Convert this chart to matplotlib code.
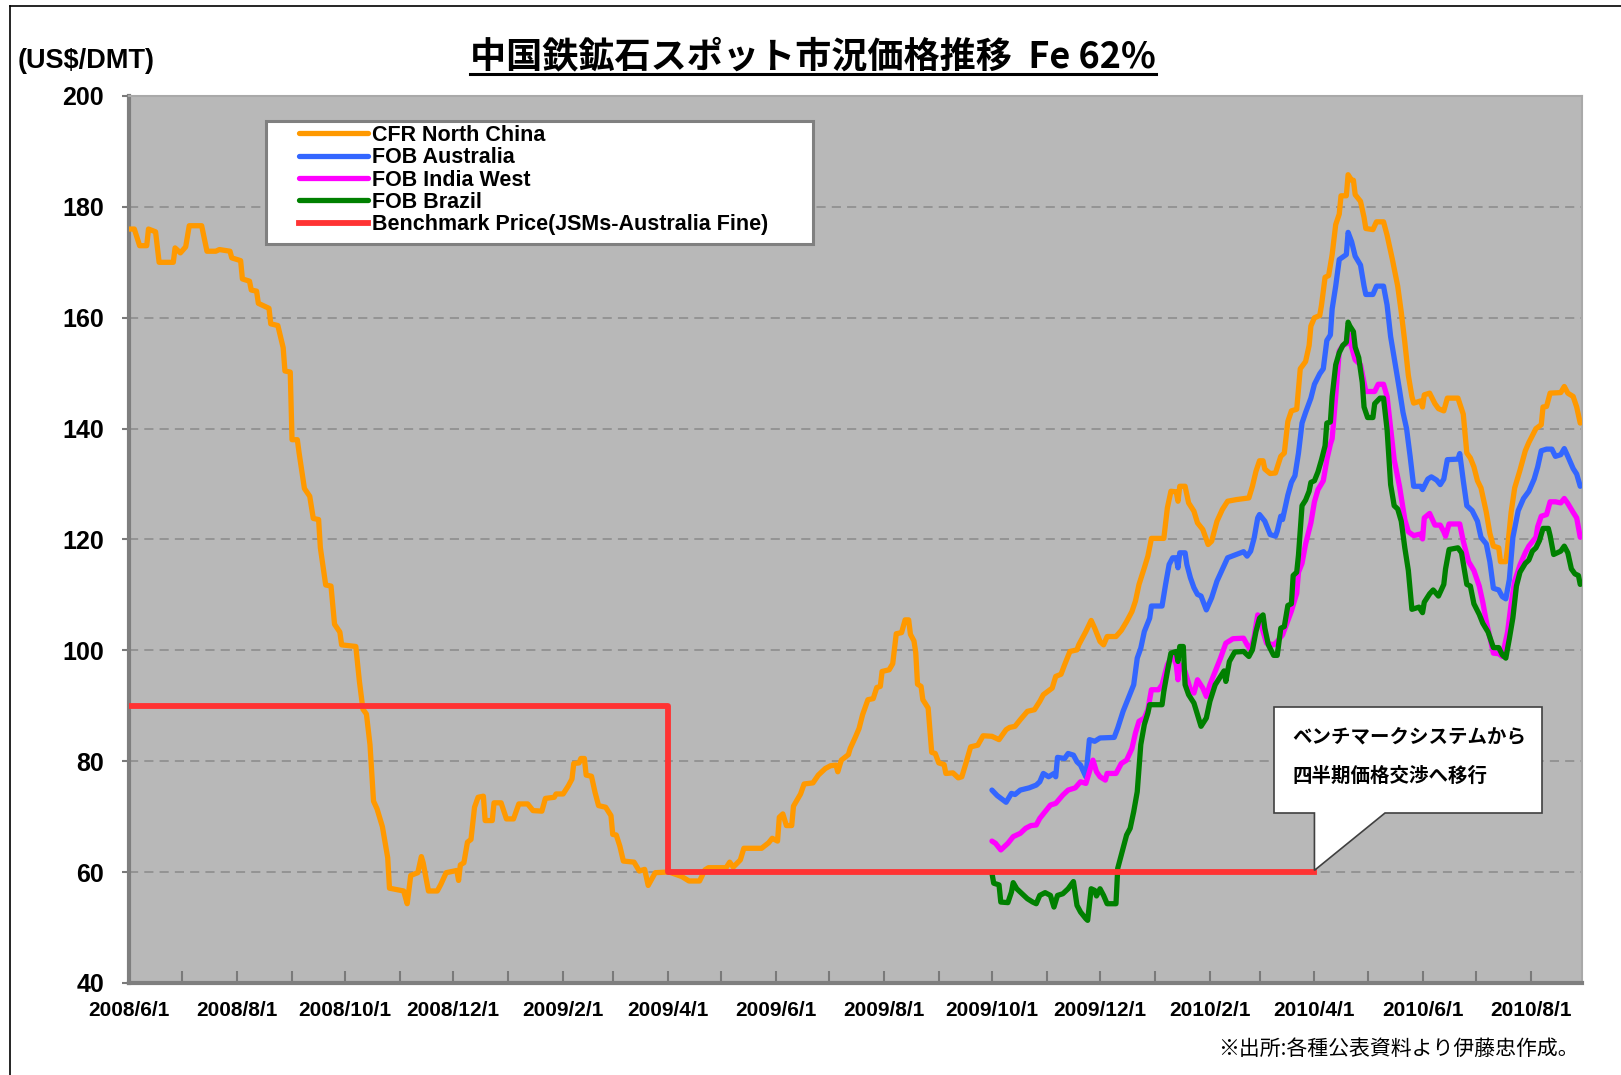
import matplotlib
matplotlib.use("Agg")
import matplotlib.pyplot as plt
import matplotlib.dates as mdates
from matplotlib.lines import Line2D
from matplotlib.patches import Polygon, Rectangle
import pandas as pd

plt.rcParams['font.family'] = ['Liberation Sans', 'Noto Sans CJK JP', 'DejaVu Sans']

# ---------------- data ----------------
cfr_dates = [
    "2008-06-01", "2008-06-04", "2008-06-07", "2008-06-11", "2008-06-12", "2008-06-16", "2008-06-18", "2008-06-26", "2008-06-27", "2008-06-30",
    "2008-07-03", "2008-07-05", "2008-07-12", "2008-07-15", "2008-07-20", "2008-07-22", "2008-07-28", "2008-07-29", "2008-08-03", "2008-08-04",
    "2008-08-08", "2008-08-09", "2008-08-12", "2008-08-13", "2008-08-19", "2008-08-20", "2008-08-24", "2008-08-27", "2008-08-28", "2008-08-31",
    "2008-09-01", "2008-09-04", "2008-09-05", "2008-09-08", "2008-09-11", "2008-09-13", "2008-09-16", "2008-09-17", "2008-09-20", "2008-09-23",
    "2008-09-25", "2008-09-28", "2008-09-29", "2008-10-07", "2008-10-09", "2008-10-11", "2008-10-13", "2008-10-15", "2008-10-17", "2008-10-19",
    "2008-10-22", "2008-10-25", "2008-10-26", "2008-11-03", "2008-11-05", "2008-11-07", "2008-11-11", "2008-11-13", "2008-11-14", "2008-11-17",
    "2008-11-22", "2008-11-24", "2008-11-27", "2008-12-03", "2008-12-04", "2008-12-05", "2008-12-07", "2008-12-09", "2008-12-11", "2008-12-13",
    "2008-12-15", "2008-12-18", "2008-12-19", "2008-12-23", "2008-12-24", "2008-12-28", "2008-12-31", "2009-01-04", "2009-01-07", "2009-01-12",
    "2009-01-15", "2009-01-20", "2009-01-22", "2009-01-27", "2009-01-28", "2009-02-01", "2009-02-04", "2009-02-06", "2009-02-07", "2009-02-10",
    "2009-02-11", "2009-02-13", "2009-02-14", "2009-02-17", "2009-02-19", "2009-02-21", "2009-02-25", "2009-02-28", "2009-03-01", "2009-03-03",
    "2009-03-05", "2009-03-07", "2009-03-13", "2009-03-16", "2009-03-19", "2009-03-21", "2009-03-25", "2009-03-31", "2009-04-02", "2009-04-09",
    "2009-04-13", "2009-04-19", "2009-04-22", "2009-04-24", "2009-05-04", "2009-05-06", "2009-05-08", "2009-05-12", "2009-05-14", "2009-05-24",
    "2009-05-28", "2009-05-30", "2009-06-02", "2009-06-03", "2009-06-05", "2009-06-07", "2009-06-10", "2009-06-11", "2009-06-15", "2009-06-17",
    "2009-06-22", "2009-06-25", "2009-06-29", "2009-07-02", "2009-07-05", "2009-07-06", "2009-07-08", "2009-07-12", "2009-07-13", "2009-07-16",
    "2009-07-18", "2009-07-20", "2009-07-23", "2009-07-26", "2009-07-28", "2009-07-30", "2009-07-31", "2009-08-04", "2009-08-06", "2009-08-08",
    "2009-08-11", "2009-08-13", "2009-08-15", "2009-08-16", "2009-08-18", "2009-08-19", "2009-08-20", "2009-08-22", "2009-08-23", "2009-08-26",
    "2009-08-28", "2009-08-30", "2009-09-01", "2009-09-04", "2009-09-05", "2009-09-09", "2009-09-12", "2009-09-14", "2009-09-16", "2009-09-19",
    "2009-09-23", "2009-09-26", "2009-10-01", "2009-10-05", "2009-10-09", "2009-10-11", "2009-10-14", "2009-10-17", "2009-10-21", "2009-10-25",
    "2009-10-28", "2009-10-30", "2009-11-04", "2009-11-06", "2009-11-09", "2009-11-11", "2009-11-14", "2009-11-18", "2009-11-19", "2009-11-23",
    "2009-11-26", "2009-11-28", "2009-12-01", "2009-12-03", "2009-12-05", "2009-12-10", "2009-12-13", "2009-12-16", "2009-12-19", "2009-12-21",
    "2009-12-23", "2009-12-26", "2009-12-28", "2009-12-30", "2010-01-06", "2010-01-08", "2010-01-10", "2010-01-13", "2010-01-14", "2010-01-15",
    "2010-01-18", "2010-01-20", "2010-01-23", "2010-01-25", "2010-01-28", "2010-01-31", "2010-02-02", "2010-02-05", "2010-02-08", "2010-02-11",
    "2010-02-16", "2010-02-23", "2010-02-25", "2010-02-27", "2010-03-01", "2010-03-03", "2010-03-04", "2010-03-07", "2010-03-10", "2010-03-13",
    "2010-03-15", "2010-03-17", "2010-03-19", "2010-03-22", "2010-03-24", "2010-03-27", "2010-03-29", "2010-03-30", "2010-04-01", "2010-04-04",
    "2010-04-05", "2010-04-07", "2010-04-09", "2010-04-11", "2010-04-13", "2010-04-15", "2010-04-16", "2010-04-19", "2010-04-20", "2010-04-22",
    "2010-04-23", "2010-04-24", "2010-04-27", "2010-04-29", "2010-04-30", "2010-05-04", "2010-05-06", "2010-05-10", "2010-05-12", "2010-05-15",
    "2010-05-18", "2010-05-20", "2010-05-22", "2010-05-24", "2010-05-26", "2010-05-27", "2010-05-31", "2010-06-01", "2010-06-02", "2010-06-05",
    "2010-06-08", "2010-06-10", "2010-06-13", "2010-06-15", "2010-06-21", "2010-06-24", "2010-06-26", "2010-06-28", "2010-06-30", "2010-07-02",
    "2010-07-04", "2010-07-07", "2010-07-09", "2010-07-11", "2010-07-14", "2010-07-15", "2010-07-18", "2010-07-19", "2010-07-21", "2010-07-23",
    "2010-07-26", "2010-07-29", "2010-07-31", "2010-08-04", "2010-08-07", "2010-08-08", "2010-08-10", "2010-08-12", "2010-08-18", "2010-08-20",
    "2010-08-22", "2010-08-25", "2010-08-27", "2010-08-29",
]
cfr_values = [
    176, 176, 173, 173, 176, 175.5, 170, 170, 172.6, 171.7,
    172.8, 176.6, 176.6, 172, 172, 172.3, 172, 170.8, 170.3, 167,
    166.6, 165, 164.8, 162.6, 161.7, 158.9, 158.6, 154.6, 150.4, 150.2,
    138, 138, 135.6, 129.2, 127.8, 123.8, 123.6, 118.5, 111.8, 111.6,
    104.7, 103.3, 101, 100.7, 94.5, 89.4, 88.5, 83, 72.8, 71.4,
    68.2, 62.6, 57.1, 56.6, 54.3, 59.4, 59.9, 62.8, 61.7, 56.6,
    56.6, 57.8, 59.9, 60.3, 58.5, 61.3, 61.7, 65.4, 65.9, 71.7,
    73.5, 73.7, 69.3, 69.3, 72.5, 72.5, 69.6, 69.6, 72.3, 72.3,
    71.1, 71, 73.3, 73.5, 74.1, 74.1, 75.6, 76.8, 79.6, 79.7,
    80.5, 80.5, 77.5, 77.3, 74.4, 72, 71.7, 70.2, 66.8, 66.7,
    64.7, 62, 61.8, 60.2, 60.5, 57.6, 59.9, 60, 60, 59.2,
    58.4, 58.4, 60.4, 60.8, 60.8, 61.8, 60.9, 62.2, 64.3, 64.3,
    65.3, 66.1, 65.6, 69.9, 70.5, 68.4, 68.4, 71.9, 74.1, 75.9,
    76.1, 77.5, 78.7, 79.2, 79.3, 78.1, 80.2, 81.2, 82.3, 84.4,
    85.9, 88.4, 91.1, 91.3, 93.3, 93.5, 96.2, 96.5, 97.6, 103,
    103.2, 105.5, 105.5, 102.9, 101.7, 99.6, 93.9, 93.5, 91.1, 89.6,
    81.6, 81.4, 79.7, 79.4, 77.8, 77.9, 77, 77.2, 79.3, 82.6,
    82.9, 84.6, 84.5, 83.9, 85.7, 86.1, 86.3, 87.5, 89, 89.3,
    90.8, 92, 93.2, 95.3, 95.7, 97.4, 99.8, 100.1, 101, 103.4,
    105.4, 104, 101.6, 101, 102.5, 102.5, 103.6, 105.2, 107, 108.9,
    111.9, 114.9, 117, 120.2, 120.2, 125.7, 128.7, 128.6, 126.9, 129.6,
    129.6, 126.6, 125.1, 123, 121.8, 119.1, 119.7, 123.3, 125.4, 126.9,
    127.2, 127.5, 129.6, 132.3, 134.2, 134.2, 132.7, 131.9, 132, 135,
    135.6, 141.3, 143.2, 143.5, 150.8, 152.1, 155, 158.5, 160, 160.4,
    162.3, 167.3, 167.6, 171.4, 176.8, 178.7, 182, 182, 185.8, 184.8,
    184.8, 182.2, 181, 178.1, 176.1, 175.9, 177.3, 177.3, 174.9, 170.5,
    165.7, 161, 155.6, 149.6, 145.8, 144.6, 145, 143.9, 146.1, 146.4,
    144.5, 143.6, 143.2, 145.5, 145.5, 142.6, 135.6, 134.7, 133.1, 130.6,
    129.3, 124.9, 121.1, 118.8, 118.5, 116, 116, 118.5, 124.9, 129.3,
    132.5, 136, 137.5, 140, 140.7, 143.9, 144, 146.4, 146.5, 147.6,
    146.4, 145.8, 143.9, 141,
]

aus_dates = [
    "2009-10-01", "2009-10-04", "2009-10-09", "2009-10-12", "2009-10-14", "2009-10-17", "2009-10-22", "2009-10-26", "2009-10-28", "2009-10-30",
    "2009-11-02", "2009-11-05", "2009-11-06", "2009-11-07", "2009-11-11", "2009-11-13", "2009-11-16", "2009-11-18", "2009-11-20", "2009-11-23",
    "2009-11-25", "2009-11-28", "2009-12-01", "2009-12-09", "2009-12-11", "2009-12-14", "2009-12-17", "2009-12-20", "2009-12-22", "2009-12-24",
    "2009-12-26", "2009-12-29", "2009-12-30", "2010-01-05", "2010-01-07", "2010-01-09", "2010-01-11", "2010-01-13", "2010-01-14", "2010-01-15",
    "2010-01-18", "2010-01-19", "2010-01-21", "2010-01-23", "2010-01-25", "2010-01-27", "2010-01-30", "2010-02-02", "2010-02-05", "2010-02-08",
    "2010-02-11", "2010-02-16", "2010-02-20", "2010-02-22", "2010-02-24", "2010-02-26", "2010-02-28", "2010-03-01", "2010-03-04", "2010-03-07",
    "2010-03-10", "2010-03-11", "2010-03-13", "2010-03-14", "2010-03-17", "2010-03-19", "2010-03-21", "2010-03-23", "2010-03-25", "2010-03-27",
    "2010-03-30", "2010-04-01", "2010-04-04", "2010-04-06", "2010-04-08", "2010-04-10", "2010-04-11", "2010-04-13", "2010-04-15", "2010-04-19",
    "2010-04-20", "2010-04-22", "2010-04-24", "2010-04-27", "2010-04-29", "2010-04-30", "2010-05-04", "2010-05-06", "2010-05-10", "2010-05-12",
    "2010-05-14", "2010-05-17", "2010-05-19", "2010-05-21", "2010-05-23", "2010-05-25", "2010-05-27", "2010-05-31", "2010-06-01", "2010-06-04",
    "2010-06-06", "2010-06-09", "2010-06-11", "2010-06-13", "2010-06-15", "2010-06-21", "2010-06-22", "2010-06-24", "2010-06-26", "2010-06-29",
    "2010-07-02", "2010-07-04", "2010-07-07", "2010-07-09", "2010-07-11", "2010-07-14", "2010-07-16", "2010-07-18", "2010-07-20", "2010-07-22",
    "2010-07-25", "2010-07-28", "2010-07-31", "2010-08-03", "2010-08-05", "2010-08-07", "2010-08-10", "2010-08-13", "2010-08-15", "2010-08-18",
    "2010-08-20", "2010-08-22", "2010-08-25", "2010-08-27", "2010-08-29",
]
aus_values = [
    74.8, 73.8, 72.6, 74.2, 74, 74.8, 75.2, 75.7, 76.3, 77.8,
    77.2, 77.8, 77.2, 80.7, 80.5, 81.4, 81.1, 79.9, 79.3, 77.2,
    83.9, 83.6, 84.2, 84.3, 86, 89, 91.4, 93.8, 98.6, 100.4,
    103.4, 105.8, 108, 108, 111.9, 115.5, 116.7, 116.7, 114.9, 117.6,
    117.6, 115.5, 113.1, 111.3, 110.1, 109.8, 107.3, 109.5, 112.5, 114.6,
    116.7, 117.3, 117.8, 117, 117.9, 120.3, 123.9, 124.5, 123.3, 120.9,
    120.6, 121.5, 124.2, 123.6, 128, 130.3, 131.5, 135.6, 141, 142.9,
    145.5, 148, 149.9, 150.8, 155.9, 156.9, 161.6, 165.7, 170.5, 171.4,
    175.4, 173.7, 171.1, 169.5, 165.7, 164.2, 164.2, 165.7, 165.7, 162.3,
    156.6, 150.8, 147, 142.9, 140, 135, 129.6, 129.6, 129, 130.9,
    131.3, 130.7, 129.9, 130.9, 134.4, 134.5, 135.5, 130.6, 126.1, 125.2,
    123.3, 120.4, 119.2, 116, 111.2, 110.9, 109.7, 109.3, 112.8, 120.4,
    125.2, 127.4, 128.7, 130.9, 133.1, 136, 136.3, 136.3, 135, 135.3,
    136.4, 135, 132.8, 131.8, 129.6,
]

ind_dates = [
    "2009-10-01", "2009-10-03", "2009-10-06", "2009-10-10", "2009-10-13", "2009-10-17", "2009-10-20", "2009-10-23", "2009-10-26", "2009-10-28",
    "2009-10-31", "2009-11-03", "2009-11-06", "2009-11-10", "2009-11-13", "2009-11-17", "2009-11-20", "2009-11-23", "2009-11-25", "2009-11-27",
    "2009-11-29", "2009-12-01", "2009-12-04", "2009-12-05", "2009-12-10", "2009-12-13", "2009-12-16", "2009-12-19", "2009-12-21", "2009-12-23",
    "2009-12-26", "2009-12-28", "2009-12-30", "2010-01-03", "2010-01-05", "2010-01-08", "2010-01-11", "2010-01-13", "2010-01-14", "2010-01-15",
    "2010-01-18", "2010-01-21", "2010-01-23", "2010-01-25", "2010-01-28", "2010-01-30", "2010-02-01", "2010-02-04", "2010-02-07", "2010-02-10",
    "2010-02-14", "2010-02-20", "2010-02-22", "2010-02-24", "2010-02-26", "2010-02-28", "2010-03-01", "2010-03-03", "2010-03-05", "2010-03-09",
    "2010-03-11", "2010-03-14", "2010-03-16", "2010-03-19", "2010-03-22", "2010-03-23", "2010-03-25", "2010-03-27", "2010-03-30", "2010-04-01",
    "2010-04-03", "2010-04-06", "2010-04-08", "2010-04-10", "2010-04-11", "2010-04-13", "2010-04-15", "2010-04-17", "2010-04-19", "2010-04-20",
    "2010-04-22", "2010-04-24", "2010-04-27", "2010-04-30", "2010-05-05", "2010-05-07", "2010-05-10", "2010-05-12", "2010-05-14", "2010-05-16",
    "2010-05-19", "2010-05-22", "2010-05-24", "2010-05-27", "2010-05-31", "2010-06-01", "2010-06-02", "2010-06-05", "2010-06-08", "2010-06-11",
    "2010-06-13", "2010-06-14", "2010-06-16", "2010-06-22", "2010-06-24", "2010-06-27", "2010-06-30", "2010-07-03", "2010-07-05", "2010-07-07",
    "2010-07-11", "2010-07-14", "2010-07-16", "2010-07-19", "2010-07-21", "2010-07-23", "2010-07-26", "2010-07-29", "2010-07-31", "2010-08-04",
    "2010-08-05", "2010-08-07", "2010-08-10", "2010-08-12", "2010-08-15", "2010-08-18", "2010-08-20", "2010-08-22", "2010-08-25", "2010-08-27",
    "2010-08-29",
]
ind_values = [
    65.6, 65.2, 64, 65.2, 66.4, 67, 67.9, 68.4, 68.5, 69.7,
    70.9, 72.1, 72.4, 73.9, 74.8, 75.2, 76.3, 76, 78.1, 80.2,
    78.1, 77.2, 76.6, 77.8, 77.8, 79.6, 80.2, 82.3, 85.1, 87.2,
    87.8, 89.3, 92.9, 92.9, 93.8, 97.4, 99.2, 97.4, 94.7, 97.4,
    96.2, 92.9, 92.3, 94.7, 93.2, 91.7, 93.8, 96.2, 98.6, 101.3,
    102.1, 102.2, 101, 100.1, 102.5, 106.4, 105.8, 103.4, 101.3, 101,
    101.6, 102.8, 104.5, 107.1, 110.3, 114.1, 115.7, 119.2, 123, 126.8,
    129, 130.6, 134.4, 137.2, 138.2, 145.8, 154, 155, 155.3, 157.2,
    154.7, 152.4, 151.5, 146.7, 146.7, 148, 148, 145.8, 140.1, 134.4,
    129.6, 123.6, 121.4, 120.7, 121, 120.1, 123.9, 124.7, 122.6, 122.6,
    121.4, 120.6, 122.8, 122.8, 119.7, 116, 114.4, 111.6, 108.7, 105.2,
    99.5, 99.4, 98.9, 103.3, 108.4, 112.5, 115.4, 117.6, 118.8, 120.4,
    122.3, 124.2, 124.5, 126.8, 126.8, 126.6, 127.4, 126.5, 124.9, 123.9,
    120.4,
]

bra_dates = [
    "2009-10-01", "2009-10-02", "2009-10-05", "2009-10-06", "2009-10-10", "2009-10-12", "2009-10-13", "2009-10-15", "2009-10-19", "2009-10-21",
    "2009-10-24", "2009-10-26", "2009-10-28", "2009-10-31", "2009-11-03", "2009-11-05", "2009-11-07", "2009-11-10", "2009-11-13", "2009-11-16",
    "2009-11-18", "2009-11-20", "2009-11-23", "2009-11-24", "2009-11-26", "2009-11-28", "2009-11-29", "2009-12-01", "2009-12-03", "2009-12-05",
    "2009-12-10", "2009-12-11", "2009-12-13", "2009-12-16", "2009-12-18", "2009-12-20", "2009-12-22", "2009-12-23", "2009-12-24", "2009-12-26",
    "2009-12-28", "2009-12-29", "2010-01-05", "2010-01-06", "2010-01-08", "2010-01-10", "2010-01-13", "2010-01-14", "2010-01-15", "2010-01-17",
    "2010-01-18", "2010-01-20", "2010-01-23", "2010-01-25", "2010-01-27", "2010-01-30", "2010-02-01", "2010-02-04", "2010-02-07", "2010-02-09",
    "2010-02-10", "2010-02-12", "2010-02-15", "2010-02-20", "2010-02-23", "2010-02-25", "2010-02-27", "2010-03-01", "2010-03-03", "2010-03-04",
    "2010-03-06", "2010-03-09", "2010-03-11", "2010-03-13", "2010-03-15", "2010-03-17", "2010-03-19", "2010-03-20", "2010-03-22", "2010-03-23",
    "2010-03-25", "2010-03-27", "2010-03-29", "2010-03-30", "2010-04-01", "2010-04-03", "2010-04-05", "2010-04-07", "2010-04-08", "2010-04-10",
    "2010-04-11", "2010-04-13", "2010-04-15", "2010-04-17", "2010-04-19", "2010-04-20", "2010-04-21", "2010-04-23", "2010-04-24", "2010-04-26",
    "2010-04-28", "2010-04-29", "2010-05-01", "2010-05-04", "2010-05-05", "2010-05-08", "2010-05-10", "2010-05-12", "2010-05-14", "2010-05-16",
    "2010-05-18", "2010-05-20", "2010-05-22", "2010-05-24", "2010-05-26", "2010-05-30", "2010-06-01", "2010-06-02", "2010-06-05", "2010-06-07",
    "2010-06-10", "2010-06-13", "2010-06-14", "2010-06-16", "2010-06-21", "2010-06-23", "2010-06-26", "2010-06-28", "2010-06-30", "2010-07-03",
    "2010-07-05", "2010-07-08", "2010-07-11", "2010-07-14", "2010-07-16", "2010-07-18", "2010-07-20", "2010-07-22", "2010-07-24", "2010-07-26",
    "2010-07-29", "2010-07-31", "2010-08-02", "2010-08-04", "2010-08-06", "2010-08-08", "2010-08-11", "2010-08-12", "2010-08-14", "2010-08-18",
    "2010-08-20", "2010-08-22", "2010-08-24", "2010-08-26", "2010-08-28", "2010-08-29",
]
bra_values = [
    59.8, 58, 57.7, 54.6, 54.5, 56.4, 58.1, 57, 55.8, 55.2,
    54.6, 54.3, 55.8, 56.3, 55.8, 53.7, 55.8, 56.1, 57, 58.3,
    54, 52.8, 51.6, 51.3, 57, 56.7, 55.7, 57, 55.8, 54.3,
    54.3, 60.7, 63.1, 66.7, 67.9, 70.9, 74.5, 78.7, 83, 86.6,
    88.7, 90.2, 90.2, 92.6, 96.2, 99.5, 99.8, 98, 100.7, 100.7,
    93.8, 92, 90.5, 88.4, 86.3, 87.8, 90.8, 93.8, 95.3, 96.3,
    94.4, 98, 99.7, 99.8, 98.9, 100.1, 103.4, 105.8, 106.4, 104,
    101, 99.1, 99.1, 104, 104.3, 108.1, 108.4, 113.5, 114.1, 117.2,
    126.1, 127.1, 128.7, 130.3, 130.6, 132.2, 134.4, 136.9, 141, 141.2,
    145.8, 151.5, 153.7, 155, 155.6, 159.2, 158.5, 157.5, 154.7, 152.8,
    148.3, 143.9, 142, 142, 144.5, 145.5, 145.5, 139.8, 129.9, 126.1,
    125.5, 123.3, 118.5, 114.4, 107.4, 107.8, 106.8, 108.7, 110.2, 110.9,
    109.8, 111.9, 114.7, 118.2, 118.5, 117.6, 111.9, 111.6, 108.4, 106.5,
    104.9, 103.3, 100.5, 100.5, 99.2, 98.6, 102.1, 105.9, 111.6, 114.1,
    115.7, 116.3, 117.9, 118.5, 119.8, 122, 122, 120.7, 117.3, 117.9,
    118.8, 117.6, 114.7, 113.8, 113.5, 111.9,
]

bench_dates = ["2008-06-01", "2009-04-01", "2010-04-01"]
bench_values = [90, 60, 60]

series_labels = ["CFR North China", "FOB Australia", "FOB India West", "FOB Brazil",
                 "Benchmark Price(JSMs-Australia Fine)"]
y_ticks = [40, 60, 80, 100, 120, 140, 160, 180, 200]
title_text = "中国鉄鉱石スポット市況価格推移  Fe 62%"
unit_text = "(US$/DMT)"
callout_lines = ["ベンチマークシステムから", "四半期価格交渉へ移行"]
source_text = "※出所:各種公表資料より伊藤忠作成。"

# ---------------- figure ----------------
W, H = 1621, 1075
fig = plt.figure(figsize=(W / 100, H / 100), dpi=100)
fig.patch.set_facecolor("white")

ax_l, ax_r, ax_t, ax_b = 129, 1582, 96, 983
ax = fig.add_axes([ax_l / W, 1 - ax_b / H, (ax_r - ax_l) / W, (ax_b - ax_t) / H])
ax.set_facecolor("#b8b8b8")


def fx(px):
    return (px - ax_l) / (ax_r - ax_l)


def fy(py):
    return 1 - (py - ax_t) / (ax_b - ax_t)


lw = 3.8
colors = ["#FF9900", "#3366FF", "#FF00FF", "#008000", "#FF3333"]
for d, v, c, lab in [(cfr_dates, cfr_values, colors[0], series_labels[0]),
                     (aus_dates, aus_values, colors[1], series_labels[1]),
                     (ind_dates, ind_values, colors[2], series_labels[2]),
                     (bra_dates, bra_values, colors[3], series_labels[3])]:
    ax.plot(pd.to_datetime(d), v, color=c, lw=lw, label=lab,
            solid_joinstyle="round", solid_capstyle="round", zorder=3)

ax.plot(pd.to_datetime(bench_dates), bench_values, color=colors[4], lw=4.2,
        drawstyle="steps-post", label=series_labels[4], zorder=4)

ax.set_xlim(pd.Timestamp("2008-06-01"), pd.Timestamp("2010-08-30"))
ax.set_ylim(40, 200)
ax.set_yticks(y_ticks)
ax.yaxis.grid(True, color="#8a8a8a", linestyle=(0, (6, 4)), lw=1.1, zorder=1)
ax.set_axisbelow(True)

ax.xaxis.set_major_locator(mdates.MonthLocator(bymonth=[2, 4, 6, 8, 10, 12]))
ax.xaxis.set_minor_locator(mdates.MonthLocator())
ax.xaxis.set_major_formatter(
    plt.FuncFormatter(lambda x, p: "{0}/{1}/{2}".format(mdates.num2date(x).year,
                                                        mdates.num2date(x).month,
                                                        mdates.num2date(x).day)))

ax.tick_params(axis="x", which="both", direction="in", length=9, width=1.5,
               color="#7a7a7a", pad=13)
ax.tick_params(axis="x", which="major", labelsize=15)
ax.tick_params(axis="y", direction="out", length=5, width=1.5, color="#7a7a7a",
               pad=13, labelsize=18)
for lab in ax.get_xticklabels() + ax.get_yticklabels():
    lab.set_fontweight("bold")

for s in ["left", "bottom"]:
    ax.spines[s].set_color("#7f7f7f")
    ax.spines[s].set_linewidth(3)
for s in ["top", "right"]:
    ax.spines[s].set_color("#a9a9a9")
    ax.spines[s].set_linewidth(1.5)

# legend: frame drawn separately, entries placed inside it
ax.add_patch(Rectangle((fx(266), fy(244)), fx(813) - fx(266), fy(121) - fy(244),
                       transform=ax.transAxes, facecolor="white", edgecolor="#808080",
                       lw=2.2, zorder=8))
leg = ax.legend(loc="upper left", bbox_to_anchor=(fx(299), fy(125)),
                frameon=False, handlelength=3.2, handletextpad=0.2,
                labelspacing=0.06, borderpad=0.0, borderaxespad=0,
                prop={"weight": "bold", "size": 15.5})
leg.set_zorder(9)

# title with underline
title = fig.text(813 / W, 1 - 57 / H, title_text, ha="center", va="center",
                 fontsize=26, fontweight="bold",
                 family=["Noto Sans CJK JP", "DejaVu Sans"])
fig.text(18 / W, 1 - 61 / H, unit_text, ha="left", va="center", fontsize=19.5,
         fontweight="bold")

fig.canvas.draw()
bb = title.get_window_extent(renderer=fig.canvas.get_renderer())
uy = 1 - 74 / H
fig.add_artist(Line2D([bb.x0 / W, bb.x1 / W], [uy, uy], color="black", lw=2.2))

# callout box anchored to the end of benchmark line
tip_disp = ax.transData.transform((mdates.date2num(pd.Timestamp(bench_dates[-1])), bench_values[-1]))
tip = ax.transAxes.inverted().transform(tip_disp)
bx0, bx1, by0, by1 = fx(1274), fx(1542), fy(813), fy(707)
verts = [(bx0, by1), (bx1, by1), (bx1, by0), (fx(1385), by0), (tip[0], tip[1] + 0.002),
         (tip[0], by0), (bx0, by0)]
poly = Polygon(verts, closed=True, transform=ax.transAxes, facecolor="white",
               edgecolor="#404040", lw=1.2, zorder=6)
ax.add_patch(poly)
ax.text(fx(1292), fy(737), callout_lines[0], transform=ax.transAxes, ha="left",
        va="center", fontsize=14, fontweight="bold",
        family=["Noto Sans CJK JP", "DejaVu Sans"], zorder=7)
ax.text(fx(1292), fy(776), callout_lines[1], transform=ax.transAxes, ha="left",
        va="center", fontsize=14, fontweight="bold",
        family=["Noto Sans CJK JP", "DejaVu Sans"], zorder=7)

# source note
fig.text(1579 / W, 1 - 1049 / H, source_text, ha="right", va="center", fontsize=15,
         family=["Noto Sans CJK JP", "DejaVu Sans"])

# outer frame (left and top lines)
fig.add_artist(Line2D([10 / W, 10 / W], [0, 1 - 6 / H], color="black", lw=1.2))
fig.add_artist(Line2D([10 / W, 1], [1 - 6 / H, 1 - 6 / H], color="black", lw=1.2))

fig.savefig("out.png", dpi=100, facecolor="white")
